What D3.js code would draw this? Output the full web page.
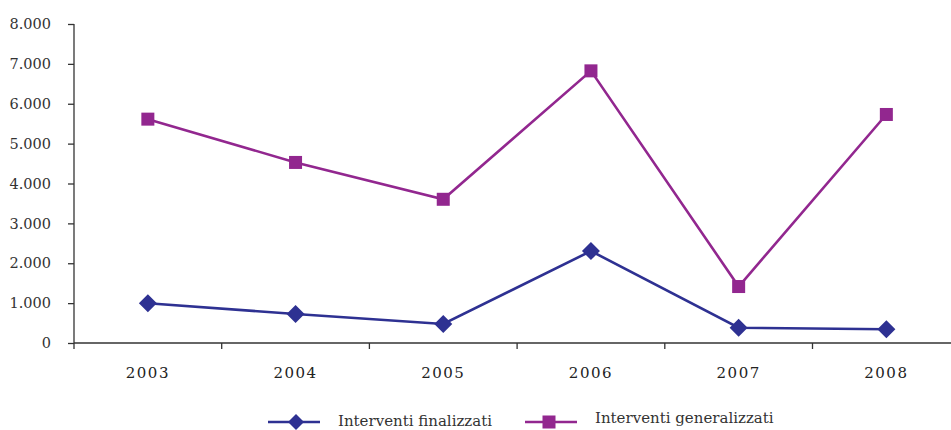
<!DOCTYPE html>
<html><head><meta charset="utf-8">
<script src="https://cdn.jsdelivr.net/npm/d3@7"></script>
<style>body{margin:0;background:#fff}svg{display:block}</style>
</head><body><svg id="c" width="951" height="430"></svg>
<script>
const years = ["2003","2004","2005","2006","2007","2008"];
const finalizzati = [995, 727, 476, 2306, 383, 343];
const generalizzati = [5614, 4528, 3604, 6825, 1416, 5731];
const yTicks = [0,1000,2000,3000,4000,5000,6000,7000,8000];
const seriesNames = ["Interventi finalizzati","Interventi generalizzati"];
const colors = ["#2E3192","#92278F"];

(function(){
const svg = d3.select("#c");
const mLeft = 74, mTop = 24, mBottom = 343, bandW = 147.7;
const x = d3.scaleBand().domain(years).range([mLeft, mLeft + bandW*years.length]);
const y = d3.scaleLinear().domain([0,8000]).range([mBottom, mTop]);
const font = "DejaVu Serif, serif";
const fmt = d => d === 0 ? "0" : d3.format(",")(d).replace(/,/g, ".");

// Y axis
const ya = svg.append("g").attr("transform",`translate(${mLeft},0)`)
  .call(d3.axisLeft(y).tickValues(yTicks).tickSize(6).tickFormat(fmt).tickPadding(17));
ya.select(".domain").attr("stroke","#333").attr("stroke-width",1.3).attr("d",`M0,${mTop}V${mBottom}`);
ya.selectAll(".tick line").attr("stroke","#333").attr("stroke-width",1.3);
ya.selectAll("text").attr("font-family",font).attr("font-size",14.5).attr("fill","#333");

// X axis
const xa = svg.append("g").attr("transform",`translate(0,${mBottom})`);
xa.append("line").attr("x1",mLeft).attr("x2",951).attr("stroke","#333").attr("stroke-width",1.3);
const bounds = years.map(d => x(d)).concat([x(years[years.length-1]) + x.bandwidth()]);
xa.selectAll("line.tk").data(bounds.filter(b => b < 951)).enter().append("line")
  .attr("class","tk").attr("x1",d=>d).attr("x2",d=>d).attr("y1",0).attr("y2",6)
  .attr("stroke","#333").attr("stroke-width",1.3);
xa.selectAll("text").data(years).enter().append("text")
  .attr("x",d=>x(d)+x.bandwidth()/2).attr("y",35).attr("text-anchor","middle")
  .attr("font-family",font).attr("font-size",15).attr("letter-spacing","1.5px").attr("fill","#222")
  .text(d=>d);

const cx = d => x(d) + x.bandwidth()/2;
const line = d3.line().x((v,i)=>cx(years[i])).y(v=>y(v));
const datasets = [finalizzati, generalizzati];
const diamond = (px,py,r) => `M${px},${py-r}L${px+r},${py}L${px},${py+r}L${px-r},${py}Z`;

datasets.forEach((data, si) => {
  svg.append("path").datum(data).attr("d", line).attr("fill","none")
    .attr("stroke", colors[si]).attr("stroke-width", 2.6);
  if (si === 0) {
    svg.selectAll(null).data(data).enter().append("path")
      .attr("d",(v,i)=>diamond(cx(years[i]), y(v), 9)).attr("fill",colors[si]);
  } else {
    svg.selectAll(null).data(data).enter().append("rect")
      .attr("x",(v,i)=>cx(years[i])-6.5).attr("y",v=>y(v)-6.5)
      .attr("width",13).attr("height",13).attr("fill",colors[si]);
  }
});

// Legend
const leg = [{x:268, ty:426}, {x:525, ty:423}];
leg.forEach((l, i) => {
  const g = svg.append("g");
  g.append("line").attr("x1",l.x).attr("x2",l.x+52).attr("y1",422).attr("y2",422)
    .attr("stroke",colors[i]).attr("stroke-width",2.6);
  if (i === 0) g.append("path").attr("d",diamond(l.x+28,422,8)).attr("fill",colors[i]);
  else g.append("rect").attr("x",l.x+24-6.5).attr("y",422-6.5).attr("width",13).attr("height",13).attr("fill",colors[i]);
  g.append("text").attr("x",l.x+70).attr("y",l.ty).attr("font-family",font).attr("font-size",15)
    .attr("fill","#333").text(seriesNames[i]);
});
})();
</script></body></html>
